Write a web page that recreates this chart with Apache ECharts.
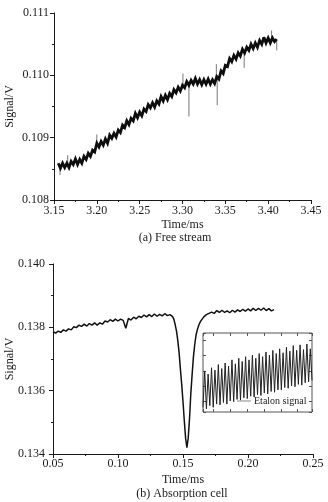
<!DOCTYPE html>
<html>
<head>
<meta charset="utf-8">
<script src="https://cdn.jsdelivr.net/npm/echarts@6/dist/echarts.min.js"></script>
<style>
  html, body { margin: 0; padding: 0; background: #fff; }
  #chart { width: 328px; height: 502px; }
</style>
</head>
<body>
<div id="chart"></div>
<script>
// (a) free stream, time in ms and signal in V
const freeTime = [3.155,3.1575,3.16,3.1625,3.165,3.1675,3.17,3.1725,3.175,3.1775,3.18,3.1825,3.185,3.1875,3.19,3.1925,3.195,3.1975,3.2,3.2025,
  3.205,3.2075,3.21,3.2125,3.215,3.2175,3.22,3.2225,3.225,3.2275,3.23,3.2325,3.235,3.2375,3.24,3.2425,3.245,3.2475,3.25,3.2525,
  3.255,3.2575,3.26,3.2625,3.265,3.2675,3.27,3.2725,3.275,3.2775,3.28,3.2825,3.285,3.2875,3.29,3.2925,3.295,3.2975,3.3,3.3025,
  3.305,3.3075,3.31,3.3125,3.315,3.3175,3.32,3.3225,3.325,3.3275,3.33,3.3325,3.335,3.3375,3.34,3.3425,3.345,3.3475,3.35,3.3525,
  3.355,3.3575,3.36,3.3625,3.365,3.3675,3.37,3.3725,3.375,3.3775,3.38,3.3825,3.385,3.3875,3.39,3.3925,3.395,3.3975,3.4,3.4025,
  3.405,3.4075,3.41];
const freeSignal = [0.10859,0.10851,0.10859,0.10852,0.10859,0.10852,0.10862,0.10857,0.10866,0.10857,
  0.10865,0.10859,0.10870,0.10865,0.10875,0.10870,0.10880,0.10877,0.10891,0.10885,
  0.10894,0.10888,0.10898,0.10891,0.10904,0.10899,0.10907,0.10901,0.10912,0.10908,
  0.10920,0.10916,0.10927,0.10921,0.10931,0.10927,0.10939,0.10932,0.10941,0.10935,
  0.10946,0.10942,0.10953,0.10948,0.10956,0.10949,0.10959,0.10954,0.10966,0.10959,
  0.10968,0.10961,0.10971,0.10966,0.10977,0.10972,0.10981,0.10975,0.10984,0.10980,
  0.10990,0.10984,0.10992,0.10986,0.10995,0.10986,0.10993,0.10985,0.10993,0.10986,
  0.10994,0.10986,0.10993,0.10987,0.10998,0.10994,0.11007,0.11003,0.11016,0.11014,
  0.11027,0.11022,0.11032,0.11026,0.11036,0.11031,0.11042,0.11036,0.11045,0.11040,
  0.11050,0.11043,0.11052,0.11045,0.11056,0.11050,0.11061,0.11052,0.11060,0.11052,
  0.11060,0.11054,0.11058];
// thin noise spikes sticking out of the band
const freeSpikeTime = [3.157, 3.166, 3.2, 3.3005, 3.3075, 3.3395, 3.3405, 3.372, 3.404, 3.41];
const freeSpikeBase = [0.10855, 0.10858, 0.10885, 0.10982, 0.10987, 0.10993, 0.10996, 0.11038, 0.11057, 0.11055];
const freeSpikeTip = [0.10840, 0.10872, 0.10905, 0.11003, 0.10934, 0.11018, 0.10952, 0.11012, 0.11072, 0.11040];

// (b) absorption cell
const absTime = [0.050,0.052,0.054,0.056,0.058,0.060,0.062,0.064,0.066,0.068,0.070,0.072,0.074,0.076,0.078,0.080,
  0.082,0.084,0.086,0.088,0.090,0.092,0.094,0.096,0.098,0.100,0.102,0.104,0.106,0.108,0.110,0.112,
  0.114,0.116,0.118,0.120,0.122,0.124,0.126,0.128,0.130,0.132,0.134,0.136,0.138,0.140,
  0.141,0.142,0.143,0.144,0.145,0.146,0.147,0.148,0.149,0.150,0.151,0.152,0.153,0.154,0.155,
  0.156,0.157,0.158,0.159,0.160,0.161,0.162,0.163,0.164,0.165,0.166,0.167,0.168,0.169,0.170,
  0.172,0.174,0.176,0.178,0.180,0.182,0.184,0.186,0.188,0.190,0.192,0.194,0.196,0.198,0.200,
  0.202,0.204,0.206,0.208,0.210,0.212,0.214,0.216,0.218,0.220];
const absSignal = [0.13786,0.13782,0.13788,0.13784,0.13792,0.13788,0.13795,0.13792,0.13802,0.13799,0.13807,0.13803,0.13810,0.13804,0.13812,0.13807,
  0.13814,0.13807,0.13814,0.13810,0.13820,0.13817,0.13824,0.13819,0.13826,0.13820,0.13826,0.13822,0.13797,0.13828,0.13823,0.13832,
  0.13827,0.13835,0.13831,0.13839,0.13833,0.13840,0.13834,0.13842,0.13835,0.13841,0.13836,0.13843,0.13837,0.13840,
  0.13838,0.13834,0.13825,0.13808,0.13788,0.13758,0.13720,0.13668,0.13620,0.13565,0.13505,0.13450,0.13420,0.13450,0.13510,
  0.13590,0.13650,0.13705,0.13745,0.13775,0.13792,0.13805,0.13815,0.13822,0.13828,0.13833,0.13837,0.13840,0.13842,0.13844,
  0.13848,0.13844,0.13853,0.13847,0.13854,0.13847,0.13852,0.13846,0.13854,0.13848,0.13855,0.13850,0.13857,0.13851,0.13858,
  0.13852,0.13860,0.13853,0.13860,0.13854,0.13861,0.13853,0.13859,0.13852,0.13856];

// inset: etalon fringes (relative units)
const etalonSignal = [0.06,0.52,0.04,0.48,0.08,0.56,0.06,0.53,0.10,0.60,0.09,0.55,0.12,0.62,0.10,0.58,
  0.14,0.66,0.13,0.61,0.16,0.68,0.15,0.64,0.18,0.70,0.17,0.66,0.20,0.72,0.19,0.68,
  0.22,0.74,0.21,0.70,0.24,0.76,0.23,0.72,0.26,0.78,0.25,0.74,0.28,0.80,0.28,0.75,
  0.31,0.82,0.30,0.77,0.33,0.84,0.32,0.78,0.35,0.85,0.34,0.79,0.37,0.86,0.38,0.80,0.40];

const serif = 'Liberation Serif';
const ink = '#1a1a1a';

let myChart = echarts.init(document.getElementById('chart'));

let axisLine = { onZero: false, lineStyle: { color: ink, width: 1 } };
let axisTick = { length: 4, lineStyle: { color: ink } };
let minorTick = { show: true, splitNumber: 2, length: 2, lineStyle: { color: ink } };
let label = (digits, margin) => ({
    color: ink,
    fontFamily: serif,
    fontSize: 12,
    margin: margin,
    formatter: (v) => v.toFixed(digits)
});
let nameStyle = { color: ink, fontFamily: serif, fontSize: 12 };
// inset box ticks, no labels
let boxAxis = (extra) => Object.assign({
    type: 'value',
    gridIndex: 2,
    axisLine: { show: false, onZero: false },
    axisTick: { inside: true, length: 3, lineStyle: { color: '#555' } },
    axisLabel: { show: false },
    splitLine: { show: false }
}, extra);

// spikes as short vertical strokes, broken apart by nulls
let spikeData = [];
freeSpikeTime.forEach((t, i) => {
    spikeData.push([t, freeSpikeBase[i]], [t, freeSpikeTip[i]], [t, null]);
});

let option = {
    animation: false,
    backgroundColor: '#fff',
    grid: [
        { left: 54, top: 13, width: 257, height: 187, outerBoundsMode: 'none' },
        { left: 53, top: 264, width: 260, height: 190, outerBoundsMode: 'none' },
        { left: 203, top: 333, width: 109, height: 79, outerBoundsMode: 'none', show: true, borderColor: '#555', borderWidth: 1, backgroundColor: '#fff' }
    ],
    xAxis: [
        {
            type: 'value', gridIndex: 0, min: 3.15, max: 3.45, interval: 0.05,
            axisLine: axisLine, axisTick: axisTick, minorTick: minorTick,
            axisLabel: label(2, 5), splitLine: { show: false },
            name: 'Time/ms', nameLocation: 'middle', nameGap: 19, nameMoveOverlap: false, nameTextStyle: nameStyle
        },
        {
            type: 'value', gridIndex: 1, min: 0.05, max: 0.25, interval: 0.05,
            axisLine: axisLine, axisTick: axisTick, minorTick: minorTick,
            axisLabel: label(2, 4), splitLine: { show: false },
            name: 'Time/ms', nameLocation: 'middle', nameGap: 20, nameMoveOverlap: false, nameTextStyle: nameStyle
        },
        {
            type: 'category', gridIndex: 2, show: false, boundaryGap: false,
            data: etalonSignal.map((_, i) => i)
        },
        boxAxis({ min: -0.64, max: 5.86, splitNumber: 6, position: 'bottom' }),
        boxAxis({ min: -0.64, max: 5.86, splitNumber: 6, position: 'top' })
    ],
    yAxis: [
        {
            type: 'value', gridIndex: 0, min: 0.108, max: 0.111, interval: 0.001,
            axisLine: Object.assign({ show: true }, axisLine), axisTick: { show: true, length: 4, lineStyle: { color: ink } },
            minorTick: minorTick, axisLabel: label(3, 5), splitLine: { show: false },
            name: 'Signal/V', nameLocation: 'middle', nameGap: 38, nameMoveOverlap: false, nameTextStyle: nameStyle
        },
        {
            type: 'value', gridIndex: 1, min: 0.134, max: 0.140, interval: 0.002,
            axisLine: Object.assign({ show: true }, axisLine), axisTick: { show: true, length: 4, lineStyle: { color: ink } },
            minorTick: minorTick, axisLabel: label(3, 8), splitLine: { show: false },
            name: 'Signal/V', nameLocation: 'middle', nameGap: 37, nameMoveOverlap: false, nameTextStyle: nameStyle
        },
        { type: 'value', gridIndex: 2, min: 0, max: 1, show: false },
        boxAxis({ min: 0.333, max: 5.46, splitNumber: 5, position: 'left' }),
        boxAxis({ min: 0.333, max: 5.46, splitNumber: 5, position: 'right' })
    ],
    legend: {
        data: [{ name: 'Etalon signal', icon: 'rect' }],
        left: 237,
        top: 396,
        itemWidth: 14,
        itemHeight: 1,
        itemGap: 4,
        padding: 0,
        itemStyle: { color: '#888' },
        textStyle: { color: ink, fontFamily: serif, fontSize: 10, padding: [0, 0, 0, -2] }
    },
    graphic: [
        { type: 'text', x: 175, y: 238, style: { text: '(a) Free stream', font: '12px "Liberation Serif"', fill: ink, textAlign: 'center', textVerticalAlign: 'middle' } },
        { type: 'text', x: 182, y: 494, style: { text: '(b) Absorption cell', font: '12px "Liberation Serif"', fill: ink, textAlign: 'center', textVerticalAlign: 'middle' } }
    ],
    series: [
        {
            name: 'Free stream noise', type: 'line', xAxisIndex: 0, yAxisIndex: 0,
            data: spikeData, connectNulls: false,
            showSymbol: false, symbol: 'none',
            lineStyle: { color: '#555', width: 0.8 }
        },
        {
            name: 'Free stream', type: 'line', xAxisIndex: 0, yAxisIndex: 0,
            data: freeTime.map((t, i) => [t, freeSignal[i]]),
            showSymbol: false, symbol: 'none',
            lineStyle: { color: '#0d0d0d', width: 2.8, join: 'miter', miterLimit: 3 }
        },
        {
            name: 'Absorption cell', type: 'line', xAxisIndex: 1, yAxisIndex: 1,
            data: absTime.map((t, i) => [t, absSignal[i]]),
            showSymbol: false, symbol: 'none',
            lineStyle: { color: '#111', width: 1.5 }
        },
        {
            name: 'Etalon signal', type: 'line', xAxisIndex: 2, yAxisIndex: 2,
            data: etalonSignal,
            showSymbol: false, symbol: 'none',
            lineStyle: { color: '#222', width: 1 }
        }
    ]
};
myChart.setOption(option);
</script>
</body>
</html>
